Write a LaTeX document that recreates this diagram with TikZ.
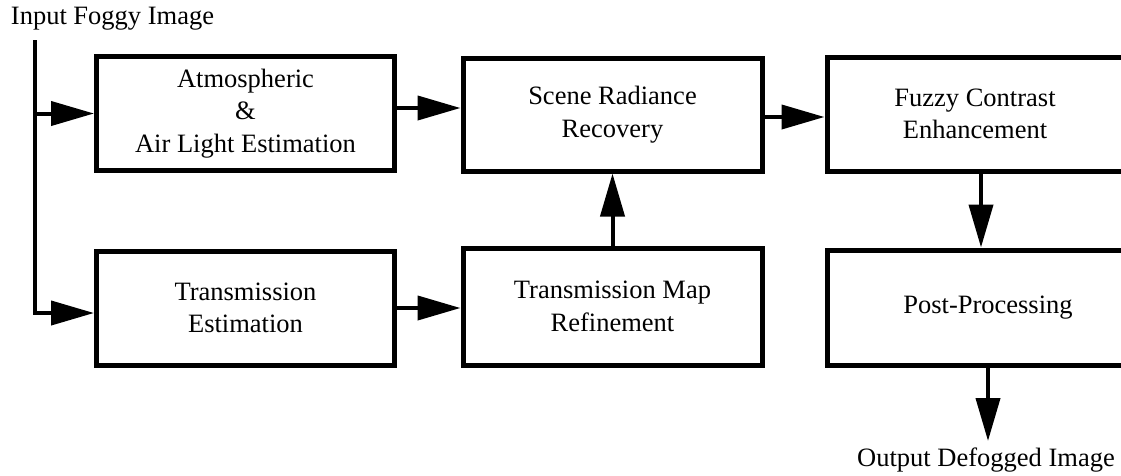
\documentclass[tikz,border=0pt]{standalone}
\usepackage{fontspec}
\setmainfont{Liberation Serif}
\usetikzlibrary{arrows.meta,calc}
\begin{document}
\begin{tikzpicture}[x=1pt,y=-1pt,
  blockbox/.style={draw=black,line width=5pt,inner sep=0pt,align=center,
    font=\fontsize{26.5}{32.5}\selectfont},
  wire/.style={line width=4pt,draw=black},
  flow/.style={wire,-{Triangle[length=43pt,width=24pt]}},
  lbl/.style={inner sep=0pt,font=\fontsize{26.5}{32.5}\selectfont}]
\useasboundingbox (0,0) rectangle (1121,475);
\clip (0,0) rectangle (1121,475);

% processing blocks
\node[blockbox,minimum width=298pt,minimum height=114pt] (A) at (245.5,113.5)
  {Atmospheric\\\&\\Air Light Estimation};
\node[blockbox,minimum width=298pt,minimum height=114pt] (B) at (245.5,308)
  {Transmission\\Estimation};
\node[blockbox,minimum width=299pt,minimum height=113pt] (C) at (612.5,114.5)
  {Scene Radiance\\Recovery};
\node[blockbox,minimum width=299pt,minimum height=117pt] (D) at (612.5,306.5)
  {Transmission Map\\Refinement};
\node[blockbox,minimum width=296pt,minimum height=114pt] (E) at (975,114)
  {Fuzzy Contrast\\Enhancement};
\node[blockbox,minimum width=322pt,minimum height=115pt] (F) at (988,307.5)
  {Post-Processing};

% input and output labels
\node[lbl] (inlbl) at (112.5,19) {Input Foggy Image};
\node[lbl] (outlbl) at (986,460) {Output Defogged Image};
\coordinate (in) at (35,40);
\coordinate (out) at (988,441);
\coordinate (ef) at ($(E.south)+(6,0)$);

% input branches
\draw[wire] (in) -- (in |- A.west);
\draw[flow] (in |- A.west) -- (A.west);
\draw[flow] (in) |- ($(B.west)+(0,5)$);

% main flow
\draw[flow] ($(A.east)+(0,-5.5)$) -- ($(C.west)+(0,-6.5)$);
\draw[flow] (B.east) -- (B.east -| D.west);
\draw[flow] (D.north) -- (C.south);
\draw[flow] ($(C.east)+(0,2.5)$) -- ($(E.west)+(0,3)$);
\draw[flow] (ef) -- (ef |- F.north);
\draw[flow] (F.south) -- (out);
\end{tikzpicture}
\end{document}
